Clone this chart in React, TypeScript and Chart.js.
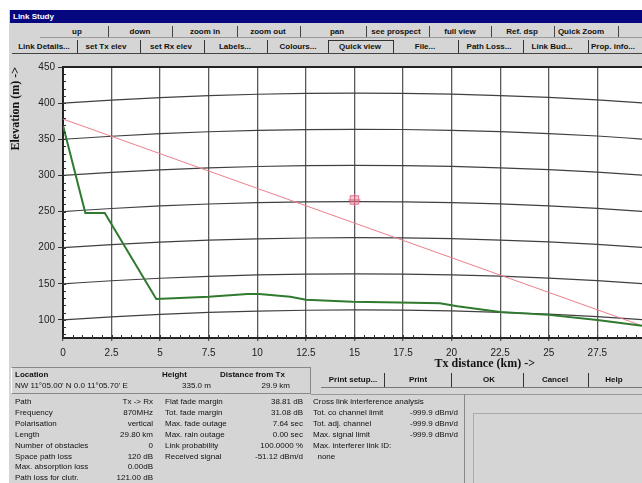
import React, { useEffect, useRef } from "react";
import { Chart, registerables } from "chart.js";

Chart.register(...registerables);

// ---- data ----
const xTickValues = [0, 2.5, 5, 7.5, 10, 12.5, 15, 17.5, 20, 22.5, 25, 27.5];
const yTickValues = [100, 150, 200, 250, 300, 350, 400, 450];

const terrainKm = [0, 1.15, 2.15, 4.8, 7.5, 9.5, 10.1, 11.7, 12.5, 14.9, 17.3, 19.4, 20.3, 22.5, 25.0, 27.5, 29.8];
const terrainElev = [369, 248, 248, 129, 132, 136, 136, 132, 128, 125, 124, 123, 119, 111, 107, 100, 92];

const losKm = [0, 29.8];
const losElev = [378, 92];

const markerKm = [15];
const markerElev = [266];

// constant-elevation curves (earth curvature) : distance and bulge
const curveKm = [0, 2.5, 5, 7.5, 10, 12.5, 15, 17.5, 20, 22.5, 25, 27.5, 29.8];
const earthBulge = [0, 4.2, 7.7, 10.4, 12.3, 13.4, 13.8, 13.5, 12.4, 10.5, 7.9, 4.5, 0.3];
const gridLevels = [100, 150, 200, 250, 300, 350, 400, 450];

const xMax = 29.8;
const yMin = 75;
const yMax = 450;

const toolbarRow1 = [
  { label: "up", cx: 77 },
  { label: "down", cx: 140 },
  { label: "zoom in", cx: 205 },
  { label: "zoom out", cx: 268 },
  { label: "pan", cx: 337 },
  { label: "see prospect", cx: 396 },
  { label: "full view", cx: 460 },
  { label: "Ref. dsp", cx: 522 },
  { label: "Quick Zoom", cx: 581 },
];
const row1Dividers = [108, 172, 237, 300, 366, 429, 491, 554, 618];

const toolbarRow2 = [
  { label: "Link Details...", cx: 44 },
  { label: "set Tx elev", cx: 106 },
  { label: "set Rx elev", cx: 171 },
  { label: "Labels...", cx: 235 },
  { label: "Colours...", cx: 298 },
  { label: "Quick view", cx: 360 },
  { label: "File...", cx: 425 },
  { label: "Path Loss...", cx: 489 },
  { label: "Link Bud...", cx: 552 },
  { label: "Prop. info...", cx: 613 },
];
const row2Dividers = [77, 140, 204, 267, 328, 393, 458, 523, 588];

const bottomButtons = [
  { label: "Print setup...", cx: 353 },
  { label: "Print", cx: 418 },
  { label: "OK", cx: 489 },
  { label: "Cancel", cx: 555 },
  { label: "Help", cx: 614 },
];
const bottomDividers = [384, 451, 523, 588];

const leftLabels = ["Path", "Frequency", "Polarisation", "Length", "Number of obstacles", "Space path loss", "Max. absorption loss", "Path loss for clutr."];
const leftValues = ["Tx -> Rx", "870MHz", "vertical", "29.80 km", "0", "120 dB", "0.00dB", "121.00 dB"];
const midLabels = ["Flat fade margin", "Tot. fade margin", "Max. fade outage", "Max. rain outage", "Link probability", "Received signal"];
const midValues = ["38.81 dB", "31.08 dB", "7.64 sec", "0.00 sec", "100.0000 %", "-51.12 dBm/d"];
const rightLabels = ["Cross link interference analysis", "Tot. co channel limit", "Tot. adj. channel", "Max. signal limit", "Max. interferer link ID:", "  none"];
const rightValues = ["", "-999.9 dBm/d", "-999.9 dBm/d", "-999.9 dBm/d", "", ""];

const UI_FONT = '"Liberation Sans", Arial, sans-serif';

function Txt(props: { x: number; y: number; children: React.ReactNode; align?: "left" | "right" | "center"; w?: number; bold?: boolean; size?: number; color?: string }) {
  const { x, y, align = "left", w = 200, bold = false, size = 8, color = "#111" } = props;
  let left = x;
  if (align === "right") left = x - w;
  if (align === "center") left = x - w / 2;
  return (
    <div
      style={{
        position: "absolute",
        left,
        top: y - 6,
        width: w,
        height: 12,
        lineHeight: "12px",
        fontSize: size,
        fontFamily: UI_FONT,
        fontWeight: bold ? 700 : 400,
        color,
        textAlign: align,
        whiteSpace: "pre",
      }}
    >
      {props.children}
    </div>
  );
}

function Line(props: { x: number; y: number; w: number; h: number; c?: string }) {
  return <div style={{ position: "absolute", left: props.x, top: props.y, width: props.w, height: props.h, background: props.c || "#555" }} />;
}

const plotDecor = {
  id: "plotDecor",
  beforeDraw(chart: any) {
    const { ctx, chartArea: a } = chart;
    ctx.save();
    ctx.fillStyle = "#ffffff";
    ctx.fillRect(a.left, a.top, a.right - a.left, a.bottom - a.top);
    ctx.restore();
  },
  afterDraw(chart: any) {
    const { ctx, chartArea: a, scales } = chart;
    const xs = scales.x;
    const ys = scales.y;
    ctx.save();
    ctx.strokeStyle = "#333";
    ctx.lineWidth = 1;
    ctx.beginPath();
    for (let v = 0; v <= xMax + 1e-6; v += 0.5) {
      const px = Math.round(xs.getPixelForValue(v)) + 0.5;
      ctx.moveTo(px, a.bottom);
      ctx.lineTo(px, a.bottom - 3);
    }
    for (let v = 80; v <= yMax + 1e-6; v += 10) {
      const py = Math.round(ys.getPixelForValue(v)) + 0.5;
      ctx.moveTo(a.left, py);
      ctx.lineTo(a.left + 3, py);
    }
    ctx.stroke();
    ctx.strokeStyle = "#222";
    ctx.lineWidth = 2;
    ctx.beginPath();
    ctx.moveTo(a.left, a.top);
    ctx.lineTo(a.right, a.top);
    ctx.stroke();
    ctx.restore();
  },
};

function LinkChart() {
  const ref = useRef<HTMLCanvasElement | null>(null);
  useEffect(() => {
    if (!ref.current) return;
    const curveSets = gridLevels.map((h) => ({
      type: "line" as const,
      data: curveKm.map((d, i) => ({ x: d, y: h + earthBulge[i] })),
      borderColor: "#404040",
      borderWidth: 1.2,
      pointRadius: 0,
      cubicInterpolationMode: "monotone" as const,
      order: 10,
    }));
    const chart = new Chart(ref.current, {
      type: "line",
      data: {
        datasets: [
          ...curveSets,
          {
            type: "line",
            data: losKm.map((d, i) => ({ x: d, y: losElev[i] })),
            borderColor: "#ec7f8c",
            borderWidth: 1,
            pointRadius: 0,
            order: 3,
          },
          {
            type: "line",
            data: terrainKm.map((d, i) => ({ x: d, y: terrainElev[i] })),
            borderColor: "#2f7a2f",
            borderWidth: 2,
            pointRadius: 0,
            order: 2,
          },
          {
            type: "scatter",
            data: markerKm.map((d, i) => ({ x: d, y: markerElev[i] })),
            pointStyle: "rect",
            pointRadius: 6,
            borderColor: "#e0708a",
            backgroundColor: "rgba(240,150,170,0.45)",
            borderWidth: 1,
            order: 1,
          },
          {
            type: "scatter",
            data: markerKm.map((d, i) => ({ x: d, y: markerElev[i] })),
            pointStyle: "cross",
            pointRadius: 6,
            borderColor: "#d0607a",
            borderWidth: 1,
            order: 0,
          },
        ] as any,
      },
      options: {
        animation: false,
        responsive: false,
        devicePixelRatio: 1,
        layout: { autoPadding: false, padding: { top: 12, right: 0, left: 0, bottom: 0 } },
        plugins: { legend: { display: false }, tooltip: { enabled: false } },
        scales: {
          x: {
            type: "linear",
            min: 0,
            max: xMax,
            afterBuildTicks: (s: any) => {
              s.ticks = xTickValues.map((v) => ({ value: v }));
            },
            afterFit: (s: any) => {
              s.height = 32;
            },
            grid: { color: "#5a5a5a", lineWidth: 1.3, drawTicks: true, tickLength: 3 },
            border: { display: true, color: "#222", width: 2 },
            ticks: {
              color: "#222",
              font: { family: UI_FONT, size: 10 },
              padding: 6,
              maxRotation: 0,
              autoSkip: false,
              callback: (v: any) => String(v),
            },
          },
          y: {
            type: "linear",
            min: yMin,
            max: yMax,
            afterBuildTicks: (s: any) => {
              s.ticks = yTickValues.map((v) => ({ value: v }));
            },
            afterFit: (s: any) => {
              s.width = 63;
            },
            grid: { drawOnChartArea: false, drawTicks: true, tickLength: 5, color: "#333" },
            border: { display: true, color: "#222", width: 2 },
            ticks: {
              color: "#222",
              font: { family: UI_FONT, size: 10 },
              padding: 3,
              autoSkip: false,
              callback: (v: any) => String(v),
            },
            title: {
              display: true,
              text: "Elevation (m) ->",
              align: "end",
              color: "#111",
              font: { family: '"Liberation Serif", serif', size: 12, weight: "bold" },
              padding: { top: 9, bottom: 0 },
            },
          },
        },
      },
      plugins: [plotDecor],
    } as any);
    return () => chart.destroy();
  }, []);
  return <canvas ref={ref} width={642} height={315} style={{ position: "absolute", left: 0, top: 55, width: 642, height: 315 }} />;
}

export default function App() {
  const rowY = (i: number) => 402 + i * 10.9;
  return (
    <div style={{ position: "fixed", left: 0, top: 0, width: 642, height: 483, overflow: "hidden", background: "#ffffff" }}>
      {/* window body */}
      <div style={{ position: "absolute", left: 9, top: 10, width: 640, height: 480, background: "#d5d5d5" }} />
      {/* title bar */}
      <div style={{ position: "absolute", left: 10, top: 10, width: 640, height: 13, background: "#06067e" }} />
      <Txt x={13} y={16.5} bold color="#ffffff">Link Study</Txt>

      {/* toolbar row 1 */}
      {toolbarRow1.map((b) => (
        <Txt key={b.label} x={b.cx} y={32} align="center" w={70} bold>{b.label}</Txt>
      ))}
      {row1Dividers.map((x) => (
        <Line key={"d1" + x} x={x} y={26} w={1} h={11} c="#444" />
      ))}
      <Line x={40} y={37} w={602} h={1} c="#9a9a9a" />

      {/* toolbar row 2 */}
      {toolbarRow2.map((b) => (
        <Txt key={b.label} x={b.cx} y={47} align="center" w={70} bold>{b.label}</Txt>
      ))}
      {row2Dividers.map((x) => (
        <Line key={"d2" + x} x={x} y={40} w={1} h={13} c="#333" />
      ))}
      <div style={{ position: "absolute", left: 328, top: 40, width: 64, height: 12, border: "1px solid #333" }} />
      <Line x={12} y={53} w={630} h={1} c="#444" />

      <LinkChart />

      {/* x axis title */}
      <div
        style={{
          position: "absolute",
          left: 340,
          top: 357,
          width: 195,
          textAlign: "right",
          fontFamily: '"Liberation Serif", serif',
          fontWeight: 700,
          fontSize: 12,
          lineHeight: "13px",
          color: "#111",
          whiteSpace: "pre",
        }}
      >
        Tx distance (km) -&gt;
      </div>

      {/* bottom buttons */}
      {bottomButtons.map((b) => (
        <Txt key={b.label} x={b.cx} y={380} align="center" w={70} bold>{b.label}</Txt>
      ))}
      {bottomDividers.map((x) => (
        <Line key={"bd" + x} x={x} y={373} w={1} h={14} c="#333" />
      ))}
      <Line x={321} y={387} w={321} h={1} c="#777" />

      {/* location box */}
      <div style={{ position: "absolute", left: 11, top: 367, width: 298, height: 25, borderTop: "1px solid #888", borderRight: "1px solid #888", borderBottom: "1px solid #888", borderLeft: "1px solid #fff" }} />
      <Txt x={15} y={375} bold>Location</Txt>
      <Txt x={15} y={386}>NW 11°05.00' N 0.0 11°05.70' E</Txt>
      <Txt x={162} y={375} bold>Height</Txt>
      <Txt x={182} y={386}>335.0 m</Txt>
      <Txt x={220} y={375} bold>Distance from Tx</Txt>
      <Txt x={290} y={386} align="right" w={60}>29.9 km</Txt>

      {leftLabels.map((l, i) => (
        <Txt key={"ll" + i} x={15} y={rowY(i)}>{l}</Txt>
      ))}
      {leftValues.map((v, i) => (
        <Txt key={"lv" + i} x={153} y={rowY(i)} align="right" w={70}>{v}</Txt>
      ))}
      {midLabels.map((l, i) => (
        <Txt key={"ml" + i} x={165} y={rowY(i)}>{l}</Txt>
      ))}
      {midValues.map((v, i) => (
        <Txt key={"mv" + i} x={303} y={rowY(i)} align="right" w={80}>{v}</Txt>
      ))}
      {rightLabels.map((l, i) => (
        <Txt key={"rl" + i} x={313} y={rowY(i)}>{l}</Txt>
      ))}
      {rightValues.map((v, i) => (
        <Txt key={"rv" + i} x={458} y={rowY(i)} align="right" w={80}>{v}</Txt>
      ))}

      {/* right empty panel */}
      <Line x={311} y={394} w={331} h={1} c="#999" />
      <Line x={464} y={394} w={1} h={89} c="#888" />
      <Line x={473} y={413} w={1} h={70} c="#aaa" />
      <Line x={473} y={413} w={169} h={1} c="#aaa" />
    </div>
  );
}
